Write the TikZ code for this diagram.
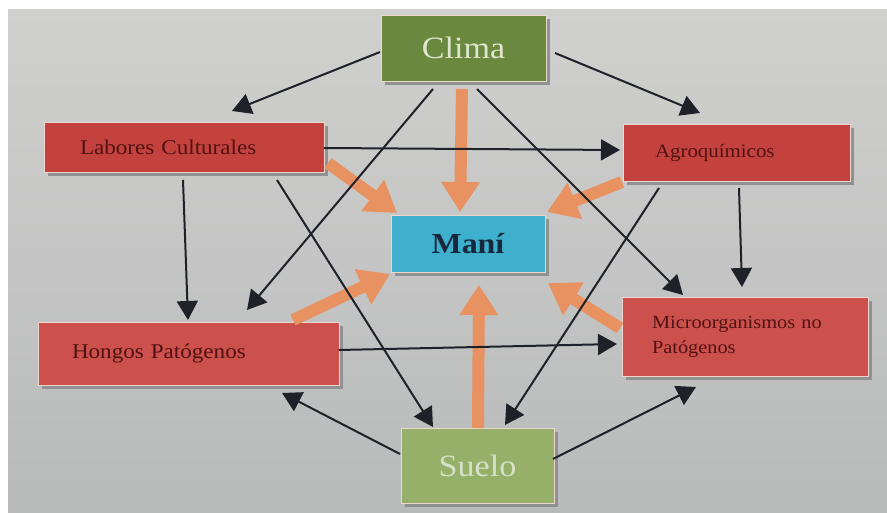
\documentclass[tikz,border=0pt]{standalone}
\usepackage{fontspec}
\setmainfont{Liberation Serif}[FakeStretch=1.1]
\usetikzlibrary{arrows.meta,calc}
\definecolor{bgtop}{RGB}{208,208,206}
\definecolor{bgbot}{RGB}{184,186,186}
\definecolor{redbox}{RGB}{196,66,62}
\definecolor{redbox2}{RGB}{204,80,76}
\definecolor{redtxt}{RGB}{80,18,18}
\definecolor{climag}{RGB}{106,136,62}
\definecolor{climat}{RGB}{222,230,205}
\definecolor{suelog}{RGB}{150,176,106}
\definecolor{suelot}{RGB}{214,224,200}
\definecolor{manib}{RGB}{62,176,206}
\definecolor{manit}{RGB}{22,40,62}
\definecolor{orng}{RGB}{232,146,98}
\definecolor{blk}{RGB}{30,34,40}
\definecolor{shadowc}{RGB}{140,140,142}
\definecolor{edgec}{RGB}{236,214,206}
\tikzset{
  boxbase/.style={draw=edgec, line width=0.8pt, rectangle, inner ysep=0pt,
    drop shadow={shadow xshift=4pt, shadow yshift=-4pt, fill=shadowc, opacity=0.9}},
  redstyle/.style={boxbase, fill=#1, text=redtxt, align=left, anchor=center},
  bigstyle/.style={boxbase, fill=#1, align=center},
  blkarrow/.style={draw=blk, line width=2pt, -{Triangle[length=19pt,width=21pt]}},
  orarrow/.style={draw=orng, line width=12pt, -{Triangle[length=30pt,width=37pt]}}
}
\usetikzlibrary{shadows}
\begin{document}
\begin{tikzpicture}[x=1pt,y=-1pt]
\useasboundingbox (0,0) rectangle (887,513);
\fill[white] (0,0) rectangle (887,513);
\shade[top color=bgtop, bottom color=bgbot] (8,10) rectangle (887,513);

% boxes
\node[bigstyle=climag, minimum width=165pt, minimum height=66pt, text=climat,
  font=\fontsize{31}{34}\selectfont] (clima) at (463.5,48) {Clima};
\node[redstyle=redbox, minimum width=280pt, minimum height=50pt,
  text width=208pt, inner xsep=36pt, font=\fontsize{21}{25}\selectfont] (lab) at (184,147) {Labores Culturales};
\node[redstyle=redbox, minimum width=227pt, minimum height=57pt,
  text width=163pt, inner xsep=32pt, font=\fontsize{19}{23}\selectfont] (agro) at (736.5,152.5) {Agroquímicos};
\node[bigstyle=manib, minimum width=154pt, minimum height=57pt, text=manit,
  font=\bfseries\fontsize{29}{32}\selectfont] (mani) at (468,243.5) {Maní};
\node[redstyle=redbox2, minimum width=301pt, minimum height=63pt,
  text width=233pt, inner xsep=34pt, font=\fontsize{21}{25}\selectfont] (hong) at (188.5,353.5) {Hongos Patógenos};
\node[redstyle=redbox2, minimum width=246pt, minimum height=79pt,
  text width=186pt, inner xsep=30pt, font=\fontsize{18.5}{25}\selectfont] (micro) at (745,336.5) {Microorganismos no\\Patógenos};
\node[bigstyle=suelog, minimum width=153pt, minimum height=75pt, text=suelot,
  font=\fontsize{31}{34}\selectfont] (suelo) at (477.5,465.5) {Suelo};

% orange arrows to Maní
\draw[orarrow] ($(clima)+(-1.5,41)$) -- ($(mani)+(-8,-31.5)$);
\draw[orarrow] ($(lab)+(144,16)$) -- ($(mani)+(-71,-30.5)$);
\draw[orarrow] ($(agro)+(-114.5,29.5)$) -- ($(mani)+(79,-31.5)$);
\draw[orarrow] ($(hong)+(104.5,-33.5)$) -- ($(mani)+(-78,30.5)$);
\draw[orarrow] ($(suelo)+(0.5,-37.5)$) -- ($(mani)+(11,41.5)$);
\draw[orarrow] ($(micro)+(-125,-8.5)$) -- ($(mani)+(80,39.5)$);

% black arrows
\draw[blkarrow] ($(clima)+(-83.5,4)$) -- ($(lab)+(48,-36)$);
\draw[blkarrow] ($(clima)+(91.5,5)$) -- ($(agro)+(-36.5,-39.5)$);
\draw[blkarrow] ($(clima)+(-30.5,41)$) -- ($(hong)+(58.5,-43.5)$);
\draw[blkarrow] ($(clima)+(13.5,41)$) -- ($(micro)+(-62,-41.5)$);
\draw[blkarrow] ($(lab)+(140,1)$) -- ($(agro)+(-116.5,-2.5)$);
\draw[blkarrow] ($(lab)+(-1,33)$) -- ($(hong)+(-0.5,-33.5)$);
\draw[blkarrow] ($(lab)+(93,33)$) -- ($(suelo)+(-44.5,-38.5)$);
\draw[blkarrow] ($(agro)+(-77.5,35.5)$) -- ($(suelo)+(27.5,-40.5)$);
\draw[blkarrow] ($(agro)+(2.5,35.5)$) -- ($(micro)+(-3,-49.5)$);
\draw[blkarrow] ($(hong)+(150.5,-3.5)$) -- ($(micro)+(-128,7.5)$);
\draw[blkarrow] ($(suelo)+(-77.5,-11.5)$) -- ($(hong)+(93.5,39.5)$);
\draw[blkarrow] ($(suelo)+(75.5,-6.5)$) -- ($(micro)+(-49,50.5)$);
\end{tikzpicture}
\end{document}
